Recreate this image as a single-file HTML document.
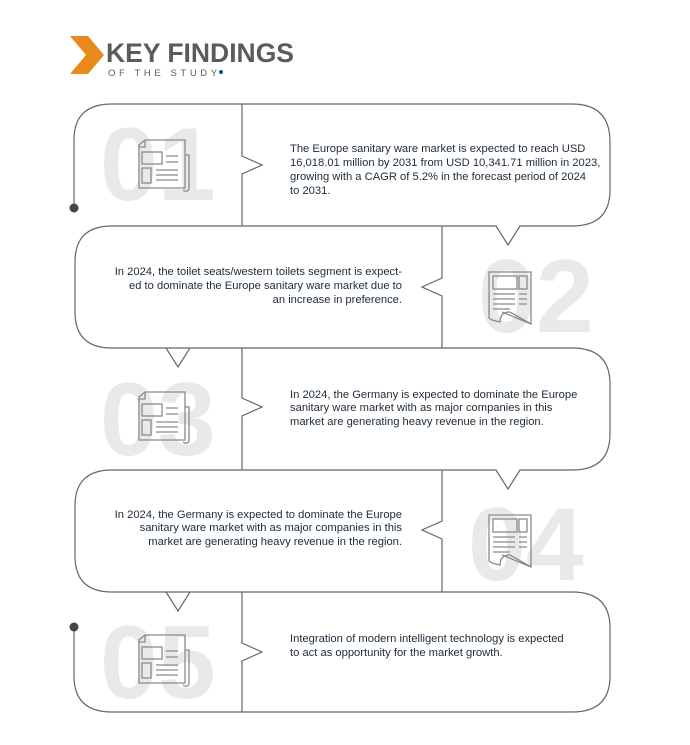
<!DOCTYPE html>
<html><head><meta charset="utf-8"><style>
html,body{margin:0;padding:0;background:#fff;}
svg{display:block}
.t{font-family:"Liberation Sans",sans-serif;font-size:11.2px;fill:#1c2b3a}
.n{font-family:"Liberation Sans",sans-serif;font-size:104px;font-weight:bold;fill:#e9e9e9}
.l{fill:none;stroke:#666;stroke-width:1.2}
.i{fill:none;stroke:#8a8a8a;stroke-width:1.3}
</style></head><body>
<svg width="690" height="745" viewBox="0 0 690 745">
<polygon points="70,36 88,36 104,55 88,74 70,74 86,55" fill="#e8891a"/>
<text x="106" y="62" font-family="Liberation Sans,sans-serif" font-weight="bold" font-size="26.5" fill="#5b5b5b">KEY FINDINGS</text>
<text x="108" y="76" font-family="Liberation Sans,sans-serif" font-size="9.5" letter-spacing="3.6" fill="#5b5b5b">OF THE STUDY</text>
<circle cx="221" cy="72" r="2" fill="#1d4f73"/>

<text class="n" x="100" y="200">01</text>
<text class="n" x="478" y="332">02</text>
<text class="n" x="100" y="455">03</text>
<text class="n" x="468" y="580">04</text>
<text class="n" x="100" y="698">05</text>

<path class="l" d="M74,208 L74,140 Q74,104 112,104 L572,104 Q610,104 610,142 L610,190 Q610,226 572,226 L520,226 L508,245 L496,226 L112,226 Q75,226 75,262 L75,312 Q75,348 112,348 L190,348 L178,367 L166,348 L572,348 Q610,348 610,384 L610,434 Q610,470 572,470 L520,470 L508,489 L496,470 L112,470 Q75,470 75,506 L75,556 Q75,592 112,592 L190,592 L178,611 L166,592 L572,592 Q610,592 610,628 L610,676 Q610,712 572,712 L112,712 Q74,712 74,676 L74,627"/>
<circle cx="74" cy="208" r="4.5" fill="#444"/>
<circle cx="74" cy="627" r="4.5" fill="#444"/>
<path class="l" d="M242,104 L242,156 L262,165 L242,174 L242,226"/>
<path class="l" d="M442,226 L442,278 L422,287 L442,296 L442,348"/>
<path class="l" d="M242,348 L242,398 L262,407 L242,416 L242,470"/>
<path class="l" d="M442,470 L442,521 L422,530 L442,539 L442,592"/>
<path class="l" d="M242,592 L242,643 L262,652 L242,661 L242,712"/>

<g id="ic1">
<path class="i" d="M139,145 L145,140 L185,140 L185,188 L151,188 L139,188 Z M145,140 L145,147 L139,147"/>
<path class="i" d="M185,155 L189,155 L189,189 Q187,193 183,190"/>
<rect class="i" x="142" y="152" width="20" height="12"/>
<rect class="i" x="142" y="168" width="9" height="15"/>
<path class="i" d="M166,156 H178 M166,162 H178 M156,170 H178 M156,175 H178 M156,180 H178"/>
</g>
<use href="#ic1" x="0" y="252"/>
<use href="#ic1" x="0" y="495"/>
<g id="ic2">
<path class="i" d="M489,272 L531,272 L531,324 L510,312 Q500,312 500,322 L492,320 L489,318 Z"/>
<path class="i" d="M502,312 L531,324"/>
<rect class="i" x="493" y="276" width="24" height="13"/>
<rect class="i" x="519" y="276" width="8" height="13"/>
<path class="i" d="M493,294 H515 M493,299 H515 M493,304 H515 M493,309 H510 M519,294 H527 M519,299 H527 M519,304 H527"/>
</g>
<use href="#ic2" x="0" y="243"/>

<text class="t" x="290" y="152">The Europe sanitary ware market is expected to reach USD</text>
<text class="t" x="290" y="166">16,018.01 million by 2031 from USD 10,341.71 million in 2023,</text>
<text class="t" x="290" y="180">growing with a CAGR of 5.2% in the forecast period of 2024</text>
<text class="t" x="290" y="194">to 2031.</text>

<text class="t" x="402" y="275" text-anchor="end">In 2024, the toilet seats/western toilets segment is expect-</text>
<text class="t" x="402" y="289" text-anchor="end">ed to dominate the Europe sanitary ware market due to</text>
<text class="t" x="402" y="303" text-anchor="end">an increase in preference.</text>

<text class="t" x="290" y="398">In 2024, the Germany is expected to dominate the Europe</text>
<text class="t" x="290" y="411">sanitary ware market with as major companies in this</text>
<text class="t" x="290" y="425">market are generating heavy revenue in the region.</text>

<text class="t" x="402" y="518" text-anchor="end">In 2024, the Germany is expected to dominate the Europe</text>
<text class="t" x="402" y="531" text-anchor="end">sanitary ware market with as major companies in this</text>
<text class="t" x="402" y="545" text-anchor="end">market are generating heavy revenue in the region.</text>

<text class="t" x="290" y="642">Integration of modern intelligent technology is expected</text>
<text class="t" x="290" y="656">to act as opportunity for the market growth.</text>
</svg>
</body></html>
